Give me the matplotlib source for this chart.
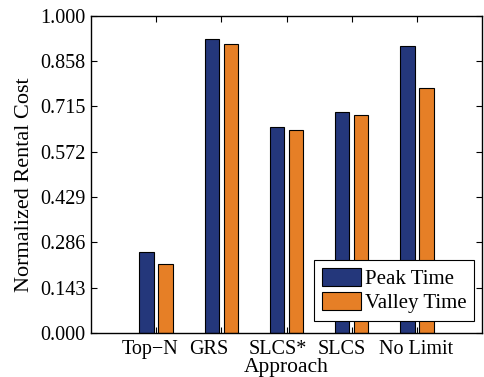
import numpy as np
import matplotlib.pyplot as plt
from matplotlib.transforms import ScaledTranslation

# Values
approaches = ["Top\u2212N", "GRS", "SLCS*", "SLCS", "No Limit"]
peak_time = [0.256, 0.927, 0.649, 0.696, 0.904]
valley_time = [0.218, 0.913, 0.640, 0.689, 0.773]
y_ticks = [0.000, 0.143, 0.286, 0.429, 0.572, 0.715, 0.858, 1.000]

PEAK_COLOR = "#24377b"
VALLEY_COLOR = "#e67f26"

plt.rcParams["font.family"] = ["Liberation Serif", "DejaVu Serif"]

fig = plt.figure(figsize=(4.84, 3.77), dpi=100)
ax = fig.add_axes([91 / 484, 1 - 333 / 377, (482 - 91) / 484, (333 - 16) / 377])

x = np.arange(1, len(approaches) + 1)
width = 0.222
ax.bar(x - 0.145, peak_time, width, color=PEAK_COLOR, edgecolor="black",
       linewidth=0.8, label="Peak Time")
ax.bar(x + 0.145, valley_time, width, color=VALLEY_COLOR, edgecolor="black",
       linewidth=0.8, label="Valley Time")

ax.set_xlim(0, 6)
ax.set_ylim(0, 1)
ax.set_xticks(x)
ax.set_xticklabels(approaches)
ax.set_yticks(y_ticks)
ax.set_yticklabels([f"{v:.3f}" for v in y_ticks])
ax.tick_params(direction="in", top=True, right=True, labelsize=14.5, length=4,
               width=0.8)
ax.tick_params(axis="x", pad=5)
ax.tick_params(axis="y", pad=4)
for spine in ax.spines.values():
    spine.set_linewidth(1.0)

# the original tool placed the category labels slightly left of their ticks
label_shift_px = [-5.7, -12.5, -8.2, -10, -0.7]
for lbl, dx in zip(ax.get_xticklabels(), label_shift_px):
    lbl.set_transform(lbl.get_transform() + ScaledTranslation(dx / 100, 0, fig.dpi_scale_trans))

ax.set_ylabel("Normalized Rental Cost", fontsize=16)
ax.yaxis.set_label_coords(-0.146, 0.467)
ax.set_xlabel("Approach", fontsize=15.5)
ax.xaxis.set_label_coords(0.5, -0.078)

leg = ax.legend(loc="lower right", bbox_to_anchor=(0.9795, 0.038), fontsize=15,
                frameon=True, fancybox=False, edgecolor="black", framealpha=1,
                handlelength=1.87, handleheight=0.96, borderpad=0.36,
                labelspacing=0.15, handletextpad=0.2, borderaxespad=0)
leg.get_frame().set_linewidth(0.8)

fig.savefig("out.png", dpi=100)
